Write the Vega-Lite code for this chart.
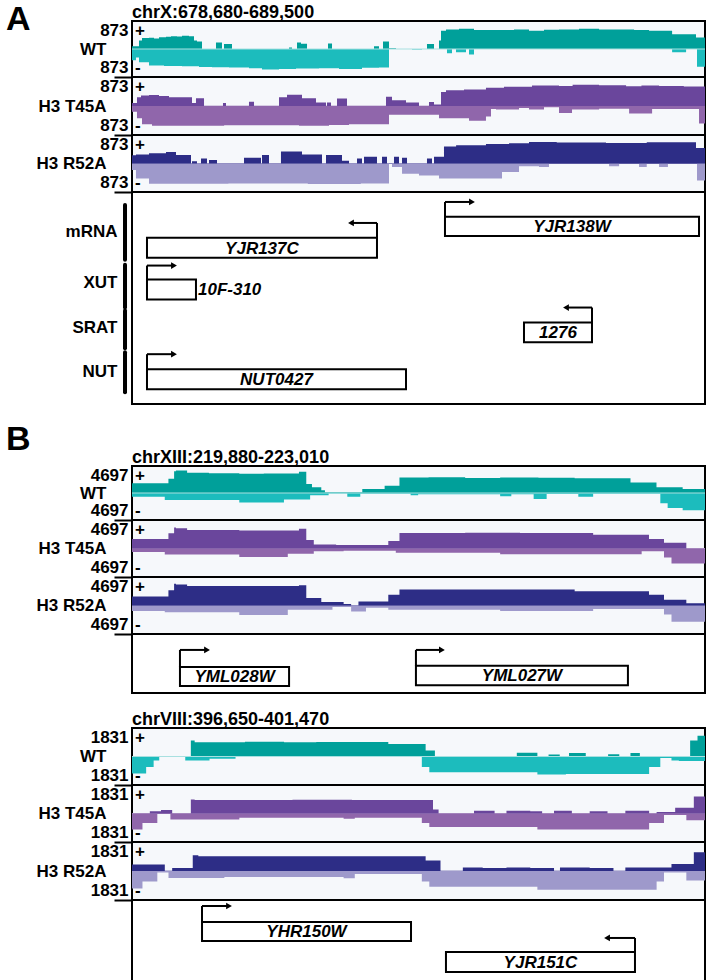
{
"$schema": "https://vega.github.io/schema/vega-lite/v6.json",
"background": "white",
"padding": {"left": 5, "top": 3, "right": 2, "bottom": 0},
"config": {
  "font": "Liberation Sans",
  "view": {"stroke": "black", "strokeWidth": 2, "fill": "#f6f8fb"},
  "axis": {"grid": false, "domain": false, "labelFont": "Liberation Sans", "labelFontWeight": "bold", "labelFontSize": 17, "labelColor": "black", "titleFont": "Liberation Sans", "titleFontWeight": "bold", "titleFontSize": 17, "titleColor": "black", "labelOverlap": false, "labelFlushOffset": -1},
  "title": {"font": "Liberation Sans", "fontWeight": "bold", "color": "black"},
  "text": {"font": "Liberation Sans", "color": "black"}
},
"datasets": {
"covA": [
{"s":"WT","t":"+","x":678680,"v":87},{"s":"WT","t":"+","x":678812,"v":262},{"s":"WT","t":"+","x":678869,"v":340},{"s":"WT","t":"+","x":679001,"v":350},{"s":"WT","t":"+","x":679096,"v":330},{"s":"WT","t":"+","x":679190,"v":370},{"s":"WT","t":"+","x":679322,"v":384},{"s":"WT","t":"+","x":679416,"v":400},{"s":"WT","t":"+","x":679530,"v":390},{"s":"WT","t":"+","x":679624,"v":410},{"s":"WT","t":"+","x":679756,"v":400},{"s":"WT","t":"+","x":679851,"v":262},{"s":"WT","t":"+","x":679907,"v":236},{"s":"WT","t":"+","x":680002,"v":0},{"s":"WT","t":"+","x":680266,"v":201},{"s":"WT","t":"+","x":680379,"v":0},{"s":"WT","t":"+","x":680417,"v":157},{"s":"WT","t":"+","x":680568,"v":0},{"s":"WT","t":"+","x":681645,"v":44},{"s":"WT","t":"+","x":681701,"v":0},{"s":"WT","t":"+","x":681796,"v":201},{"s":"WT","t":"+","x":681871,"v":160},{"s":"WT","t":"+","x":681985,"v":0},{"s":"WT","t":"+","x":682381,"v":175},{"s":"WT","t":"+","x":682457,"v":0},{"s":"WT","t":"+","x":683250,"v":87},{"s":"WT","t":"+","x":683344,"v":0},{"s":"WT","t":"+","x":683420,"v":236},{"s":"WT","t":"+","x":683533,"v":26},{"s":"WT","t":"+","x":683665,"v":0},{"s":"WT","t":"+","x":684250,"v":157},{"s":"WT","t":"+","x":684383,"v":0},{"s":"WT","t":"+","x":684477,"v":262},{"s":"WT","t":"+","x":684515,"v":567},{"s":"WT","t":"+","x":684609,"v":611},{"s":"WT","t":"+","x":684855,"v":629},{"s":"WT","t":"+","x":685138,"v":590},{"s":"WT","t":"+","x":685553,"v":594},{"s":"WT","t":"+","x":685893,"v":610},{"s":"WT","t":"+","x":686177,"v":567},{"s":"WT","t":"+","x":686460,"v":600},{"s":"WT","t":"+","x":686743,"v":611},{"s":"WT","t":"+","x":687121,"v":629},{"s":"WT","t":"+","x":687500,"v":605},{"s":"WT","t":"+","x":687878,"v":611},{"s":"WT","t":"+","x":688161,"v":590},{"s":"WT","t":"+","x":688444,"v":567},{"s":"WT","t":"+","x":688879,"v":463},{"s":"WT","t":"+","x":689330,"v":358},{"s":"WT","t":"+","x":689500,"v":358},
{"s":"WT","t":"-","x":678680,"v":-350},{"s":"WT","t":"-","x":678755,"v":-262},{"s":"WT","t":"-","x":678812,"v":-410},{"s":"WT","t":"-","x":679001,"v":-515},{"s":"WT","t":"-","x":679284,"v":-530},{"s":"WT","t":"-","x":679624,"v":-541},{"s":"WT","t":"-","x":679945,"v":-560},{"s":"WT","t":"-","x":680191,"v":-567},{"s":"WT","t":"-","x":680512,"v":-580},{"s":"WT","t":"-","x":680889,"v":-600},{"s":"WT","t":"-","x":681135,"v":-637},{"s":"WT","t":"-","x":681456,"v":-620},{"s":"WT","t":"-","x":681777,"v":-611},{"s":"WT","t":"-","x":682211,"v":-600},{"s":"WT","t":"-","x":682589,"v":-625},{"s":"WT","t":"-","x":683023,"v":-585},{"s":"WT","t":"-","x":683344,"v":-580},{"s":"WT","t":"-","x":683533,"v":0},{"s":"WT","t":"-","x":683967,"v":-15},{"s":"WT","t":"-","x":684156,"v":0},{"s":"WT","t":"-","x":684628,"v":-131},{"s":"WT","t":"-","x":684722,"v":0},{"s":"WT","t":"-","x":684798,"v":-105},{"s":"WT","t":"-","x":684987,"v":0},{"s":"WT","t":"-","x":685044,"v":-175},{"s":"WT","t":"-","x":685138,"v":0},{"s":"WT","t":"-","x":688879,"v":-105},{"s":"WT","t":"-","x":689143,"v":0},{"s":"WT","t":"-","x":689349,"v":-550},{"s":"WT","t":"-","x":689500,"v":-550},
{"s":"T45A","t":"+","x":678680,"v":87},{"s":"T45A","t":"+","x":678774,"v":262},{"s":"T45A","t":"+","x":678850,"v":314},{"s":"T45A","t":"+","x":679001,"v":330},{"s":"T45A","t":"+","x":679190,"v":300},{"s":"T45A","t":"+","x":679379,"v":262},{"s":"T45A","t":"+","x":679813,"v":87},{"s":"T45A","t":"+","x":679888,"v":236},{"s":"T45A","t":"+","x":680040,"v":0},{"s":"T45A","t":"+","x":680398,"v":87},{"s":"T45A","t":"+","x":680455,"v":0},{"s":"T45A","t":"+","x":680889,"v":131},{"s":"T45A","t":"+","x":680984,"v":0},{"s":"T45A","t":"+","x":681456,"v":262},{"s":"T45A","t":"+","x":681607,"v":340},{"s":"T45A","t":"+","x":681890,"v":236},{"s":"T45A","t":"+","x":682154,"v":105},{"s":"T45A","t":"+","x":682343,"v":0},{"s":"T45A","t":"+","x":682362,"v":105},{"s":"T45A","t":"+","x":682438,"v":0},{"s":"T45A","t":"+","x":682551,"v":227},{"s":"T45A","t":"+","x":682740,"v":0},{"s":"T45A","t":"+","x":683476,"v":279},{"s":"T45A","t":"+","x":683590,"v":175},{"s":"T45A","t":"+","x":683854,"v":105},{"s":"T45A","t":"+","x":684099,"v":0},{"s":"T45A","t":"+","x":684288,"v":122},{"s":"T45A","t":"+","x":684383,"v":44},{"s":"T45A","t":"+","x":684515,"v":419},{"s":"T45A","t":"+","x":684609,"v":471},{"s":"T45A","t":"+","x":684949,"v":500},{"s":"T45A","t":"+","x":685364,"v":550},{"s":"T45A","t":"+","x":685704,"v":580},{"s":"T45A","t":"+","x":686233,"v":620},{"s":"T45A","t":"+","x":686743,"v":600},{"s":"T45A","t":"+","x":687000,"v":640},{"s":"T45A","t":"+","x":687500,"v":625},{"s":"T45A","t":"+","x":688010,"v":594},{"s":"T45A","t":"+","x":688300,"v":615},{"s":"T45A","t":"+","x":688633,"v":600},{"s":"T45A","t":"+","x":689100,"v":590},{"s":"T45A","t":"+","x":689500,"v":590},
{"s":"T45A","t":"-","x":678680,"v":-175},{"s":"T45A","t":"-","x":678774,"v":-367},{"s":"T45A","t":"-","x":678869,"v":-550},{"s":"T45A","t":"-","x":679058,"v":-594},{"s":"T45A","t":"-","x":680420,"v":-580},{"s":"T45A","t":"-","x":681833,"v":-594},{"s":"T45A","t":"-","x":682400,"v":-575},{"s":"T45A","t":"-","x":682778,"v":-550},{"s":"T45A","t":"-","x":683476,"v":-550},{"s":"T45A","t":"-","x":683533,"v":-262},{"s":"T45A","t":"-","x":684099,"v":-262},{"s":"T45A","t":"-","x":684477,"v":-367},{"s":"T45A","t":"-","x":685044,"v":-445},{"s":"T45A","t":"-","x":685364,"v":-314},{"s":"T45A","t":"-","x":685459,"v":-87},{"s":"T45A","t":"-","x":685553,"v":-105},{"s":"T45A","t":"-","x":685988,"v":-60},{"s":"T45A","t":"-","x":686177,"v":-105},{"s":"T45A","t":"-","x":686460,"v":-40},{"s":"T45A","t":"-","x":686743,"v":-210},{"s":"T45A","t":"-","x":686989,"v":-105},{"s":"T45A","t":"-","x":687500,"v":-80},{"s":"T45A","t":"-","x":688067,"v":-227},{"s":"T45A","t":"-","x":688501,"v":-87},{"s":"T45A","t":"-","x":689387,"v":-524},{"s":"T45A","t":"-","x":689500,"v":-524},
{"s":"R52A","t":"+","x":678680,"v":250},{"s":"R52A","t":"+","x":678755,"v":279},{"s":"R52A","t":"+","x":679001,"v":314},{"s":"R52A","t":"+","x":679322,"v":349},{"s":"R52A","t":"+","x":679511,"v":262},{"s":"R52A","t":"+","x":679794,"v":0},{"s":"R52A","t":"+","x":679813,"v":70},{"s":"R52A","t":"+","x":679907,"v":0},{"s":"R52A","t":"+","x":679983,"v":157},{"s":"R52A","t":"+","x":680096,"v":0},{"s":"R52A","t":"+","x":680134,"v":105},{"s":"R52A","t":"+","x":680285,"v":0},{"s":"R52A","t":"+","x":680795,"v":175},{"s":"R52A","t":"+","x":681116,"v":0},{"s":"R52A","t":"+","x":681135,"v":262},{"s":"R52A","t":"+","x":681267,"v":0},{"s":"R52A","t":"+","x":681493,"v":367},{"s":"R52A","t":"+","x":681890,"v":279},{"s":"R52A","t":"+","x":682268,"v":0},{"s":"R52A","t":"+","x":682343,"v":262},{"s":"R52A","t":"+","x":682645,"v":87},{"s":"R52A","t":"+","x":682778,"v":0},{"s":"R52A","t":"+","x":682929,"v":157},{"s":"R52A","t":"+","x":683023,"v":0},{"s":"R52A","t":"+","x":683061,"v":210},{"s":"R52A","t":"+","x":683306,"v":0},{"s":"R52A","t":"+","x":683401,"v":210},{"s":"R52A","t":"+","x":683495,"v":0},{"s":"R52A","t":"+","x":683627,"v":210},{"s":"R52A","t":"+","x":683722,"v":0},{"s":"R52A","t":"+","x":683779,"v":175},{"s":"R52A","t":"+","x":683873,"v":0},{"s":"R52A","t":"+","x":684250,"v":157},{"s":"R52A","t":"+","x":684345,"v":0},{"s":"R52A","t":"+","x":684383,"v":210},{"s":"R52A","t":"+","x":684571,"v":524},{"s":"R52A","t":"+","x":684800,"v":560},{"s":"R52A","t":"+","x":685364,"v":594},{"s":"R52A","t":"+","x":685800,"v":620},{"s":"R52A","t":"+","x":686177,"v":655},{"s":"R52A","t":"+","x":686700,"v":640},{"s":"R52A","t":"+","x":687631,"v":629},{"s":"R52A","t":"+","x":688400,"v":650},{"s":"R52A","t":"+","x":689330,"v":471},{"s":"R52A","t":"+","x":689500,"v":471},
{"s":"R52A","t":"-","x":678680,"v":-200},{"s":"R52A","t":"-","x":678755,"v":-463},{"s":"R52A","t":"-","x":679001,"v":-620},{"s":"R52A","t":"-","x":680500,"v":-610},{"s":"R52A","t":"-","x":682000,"v":-625},{"s":"R52A","t":"-","x":683000,"v":-615},{"s":"R52A","t":"-","x":683533,"v":0},{"s":"R52A","t":"-","x":683590,"v":-105},{"s":"R52A","t":"-","x":683779,"v":-314},{"s":"R52A","t":"-","x":684099,"v":-367},{"s":"R52A","t":"-","x":684477,"v":-463},{"s":"R52A","t":"-","x":685667,"v":-262},{"s":"R52A","t":"-","x":685988,"v":-87},{"s":"R52A","t":"-","x":686365,"v":-105},{"s":"R52A","t":"-","x":686554,"v":0},{"s":"R52A","t":"-","x":687689,"v":-87},{"s":"R52A","t":"-","x":687878,"v":0},{"s":"R52A","t":"-","x":688255,"v":-105},{"s":"R52A","t":"-","x":688400,"v":0},{"s":"R52A","t":"-","x":688633,"v":-105},{"s":"R52A","t":"-","x":688800,"v":0},{"s":"R52A","t":"-","x":689349,"v":-524},{"s":"R52A","t":"-","x":689500,"v":-524}
],
"covB1": [
{"s":"WT","t":"+","x":219880,"v":1691},{"s":"WT","t":"+","x":220079,"v":2500},{"s":"WT","t":"+","x":220110,"v":3805},{"s":"WT","t":"+","x":220120,"v":3899},{"s":"WT","t":"+","x":220181,"v":3523},{"s":"WT","t":"+","x":220300,"v":3450},{"s":"WT","t":"+","x":220466,"v":3335},{"s":"WT","t":"+","x":220600,"v":3380},{"s":"WT","t":"+","x":220792,"v":3711},{"s":"WT","t":"+","x":220832,"v":1550},{"s":"WT","t":"+","x":220863,"v":986},{"s":"WT","t":"+","x":220914,"v":500},{"s":"WT","t":"+","x":220934,"v":141},{"s":"WT","t":"+","x":221138,"v":705},{"s":"WT","t":"+","x":221260,"v":1268},{"s":"WT","t":"+","x":221341,"v":2677},{"s":"WT","t":"+","x":221500,"v":2750},{"s":"WT","t":"+","x":221700,"v":2630},{"s":"WT","t":"+","x":221891,"v":2700},{"s":"WT","t":"+","x":222100,"v":2650},{"s":"WT","t":"+","x":222298,"v":2583},{"s":"WT","t":"+","x":222603,"v":1832},{"s":"WT","t":"+","x":222745,"v":986},{"s":"WT","t":"+","x":222888,"v":705},{"s":"WT","t":"+","x":223010,"v":705},
{"s":"WT","t":"-","x":219880,"v":-658},{"s":"WT","t":"-","x":220059,"v":-1221},{"s":"WT","t":"-","x":220466,"v":-1644},{"s":"WT","t":"-","x":220710,"v":-1127},{"s":"WT","t":"-","x":220853,"v":-376},{"s":"WT","t":"-","x":220954,"v":-94},{"s":"WT","t":"-","x":221056,"v":-658},{"s":"WT","t":"-","x":221127,"v":-141},{"s":"WT","t":"-","x":221402,"v":-376},{"s":"WT","t":"-","x":221443,"v":-235},{"s":"WT","t":"-","x":221891,"v":-564},{"s":"WT","t":"-","x":221952,"v":-235},{"s":"WT","t":"-","x":222074,"v":-1033},{"s":"WT","t":"-","x":222145,"v":-188},{"s":"WT","t":"-","x":222318,"v":-658},{"s":"WT","t":"-","x":222399,"v":-141},{"s":"WT","t":"-","x":222766,"v":-1785},{"s":"WT","t":"-","x":222806,"v":-2630},{"s":"WT","t":"-","x":222888,"v":-3006},{"s":"WT","t":"-","x":223010,"v":-3006},
{"s":"T45A","t":"+","x":219880,"v":1550},{"s":"T45A","t":"+","x":220079,"v":2500},{"s":"T45A","t":"+","x":220110,"v":3476},{"s":"T45A","t":"+","x":220120,"v":3335},{"s":"T45A","t":"+","x":220181,"v":3053},{"s":"T45A","t":"+","x":220466,"v":2959},{"s":"T45A","t":"+","x":220792,"v":3241},{"s":"T45A","t":"+","x":220832,"v":1409},{"s":"T45A","t":"+","x":220873,"v":658},{"s":"T45A","t":"+","x":220995,"v":564},{"s":"T45A","t":"+","x":221280,"v":1221},{"s":"T45A","t":"+","x":221341,"v":2536},{"s":"T45A","t":"+","x":221700,"v":2600},{"s":"T45A","t":"+","x":222000,"v":2536},{"s":"T45A","t":"+","x":222399,"v":2255},{"s":"T45A","t":"+","x":222704,"v":1550},{"s":"T45A","t":"+","x":222786,"v":939},{"s":"T45A","t":"+","x":222908,"v":0},{"s":"T45A","t":"+","x":223010,"v":0},
{"s":"T45A","t":"-","x":219880,"v":-564},{"s":"T45A","t":"-","x":220059,"v":-986},{"s":"T45A","t":"-","x":220466,"v":-1409},{"s":"T45A","t":"-","x":220731,"v":-845},{"s":"T45A","t":"-","x":220873,"v":-470},{"s":"T45A","t":"-","x":221036,"v":-376},{"s":"T45A","t":"-","x":221321,"v":-705},{"s":"T45A","t":"-","x":221891,"v":-939},{"s":"T45A","t":"-","x":222664,"v":-470},{"s":"T45A","t":"-","x":222786,"v":-1500},{"s":"T45A","t":"-","x":222827,"v":-2489},{"s":"T45A","t":"-","x":223010,"v":-2489},
{"s":"R52A","t":"+","x":219880,"v":1503},{"s":"R52A","t":"+","x":220079,"v":2500},{"s":"R52A","t":"+","x":220110,"v":3570},{"s":"R52A","t":"+","x":220120,"v":3476},{"s":"R52A","t":"+","x":220181,"v":3194},{"s":"R52A","t":"+","x":220792,"v":3335},{"s":"R52A","t":"+","x":220832,"v":1221},{"s":"R52A","t":"+","x":220914,"v":564},{"s":"R52A","t":"+","x":221036,"v":235},{"s":"R52A","t":"+","x":221077,"v":0},{"s":"R52A","t":"+","x":221117,"v":658},{"s":"R52A","t":"+","x":221280,"v":1785},{"s":"R52A","t":"+","x":221341,"v":2630},{"s":"R52A","t":"+","x":222298,"v":2349},{"s":"R52A","t":"+","x":222704,"v":1785},{"s":"R52A","t":"+","x":222786,"v":939},{"s":"R52A","t":"+","x":222908,"v":376},{"s":"R52A","t":"+","x":223010,"v":376},
{"s":"R52A","t":"-","x":219880,"v":-892},{"s":"R52A","t":"-","x":220059,"v":-1127},{"s":"R52A","t":"-","x":220466,"v":-1550},{"s":"R52A","t":"-","x":220731,"v":-705},{"s":"R52A","t":"-","x":220975,"v":-235},{"s":"R52A","t":"-","x":221077,"v":-986},{"s":"R52A","t":"-","x":221158,"v":-376},{"s":"R52A","t":"-","x":221280,"v":-705},{"s":"R52A","t":"-","x":221891,"v":-892},{"s":"R52A","t":"-","x":222399,"v":-564},{"s":"R52A","t":"-","x":222786,"v":-1500},{"s":"R52A","t":"-","x":222827,"v":-2677},{"s":"R52A","t":"-","x":223010,"v":-2677}
],
"covB2": [
{"s":"WT","t":"+","x":396650,"v":0},{"s":"WT","t":"+","x":397145,"v":1025},{"s":"WT","t":"+","x":397177,"v":916},{"s":"WT","t":"+","x":397600,"v":950},{"s":"WT","t":"+","x":397929,"v":916},{"s":"WT","t":"+","x":398200,"v":930},{"s":"WT","t":"+","x":398806,"v":806},{"s":"WT","t":"+","x":399120,"v":385},{"s":"WT","t":"+","x":399198,"v":0},{"s":"WT","t":"+","x":399887,"v":238},{"s":"WT","t":"+","x":400060,"v":0},{"s":"WT","t":"+","x":400154,"v":128},{"s":"WT","t":"+","x":400248,"v":0},{"s":"WT","t":"+","x":400326,"v":220},{"s":"WT","t":"+","x":400467,"v":0},{"s":"WT","t":"+","x":400655,"v":146},{"s":"WT","t":"+","x":400749,"v":0},{"s":"WT","t":"+","x":400843,"v":220},{"s":"WT","t":"+","x":400922,"v":0},{"s":"WT","t":"+","x":401345,"v":1025},{"s":"WT","t":"+","x":401407,"v":1337},{"s":"WT","t":"+","x":401470,"v":1337},
{"s":"WT","t":"-","x":396650,"v":-1099},{"s":"WT","t":"-","x":396769,"v":-677},{"s":"WT","t":"-","x":396832,"v":-256},{"s":"WT","t":"-","x":396879,"v":0},{"s":"WT","t":"-","x":397098,"v":-256},{"s":"WT","t":"-","x":397302,"v":-146},{"s":"WT","t":"-","x":397521,"v":0},{"s":"WT","t":"-","x":399088,"v":-677},{"s":"WT","t":"-","x":399151,"v":-1007},{"s":"WT","t":"-","x":400060,"v":-1154},{"s":"WT","t":"-","x":400300,"v":-1120},{"s":"WT","t":"-","x":401000,"v":-677},{"s":"WT","t":"-","x":401094,"v":-92},{"s":"WT","t":"-","x":401188,"v":-256},{"s":"WT","t":"-","x":401250,"v":-293},{"s":"WT","t":"-","x":401470,"v":-293},
{"s":"T45A","t":"+","x":396650,"v":0},{"s":"T45A","t":"+","x":396800,"v":146},{"s":"T45A","t":"+","x":396894,"v":220},{"s":"T45A","t":"+","x":396988,"v":0},{"s":"T45A","t":"+","x":397145,"v":897},{"s":"T45A","t":"+","x":397177,"v":861},{"s":"T45A","t":"+","x":398000,"v":880},{"s":"T45A","t":"+","x":398500,"v":861},{"s":"T45A","t":"+","x":399182,"v":256},{"s":"T45A","t":"+","x":399229,"v":0},{"s":"T45A","t":"+","x":399527,"v":183},{"s":"T45A","t":"+","x":399700,"v":0},{"s":"T45A","t":"+","x":399800,"v":183},{"s":"T45A","t":"+","x":400000,"v":146},{"s":"T45A","t":"+","x":400100,"v":0},{"s":"T45A","t":"+","x":400200,"v":183},{"s":"T45A","t":"+","x":400350,"v":0},{"s":"T45A","t":"+","x":400500,"v":146},{"s":"T45A","t":"+","x":400650,"v":0},{"s":"T45A","t":"+","x":400800,"v":183},{"s":"T45A","t":"+","x":401000,"v":0},{"s":"T45A","t":"+","x":401063,"v":92},{"s":"T45A","t":"+","x":401219,"v":366},{"s":"T45A","t":"+","x":401376,"v":1099},{"s":"T45A","t":"+","x":401470,"v":1099},
{"s":"T45A","t":"-","x":396650,"v":-1025},{"s":"T45A","t":"-","x":396738,"v":-604},{"s":"T45A","t":"-","x":396863,"v":-37},{"s":"T45A","t":"-","x":396973,"v":-385},{"s":"T45A","t":"-","x":397553,"v":-275},{"s":"T45A","t":"-","x":398430,"v":-330},{"s":"T45A","t":"-","x":398524,"v":-275},{"s":"T45A","t":"-","x":399088,"v":-604},{"s":"T45A","t":"-","x":399151,"v":-861},{"s":"T45A","t":"-","x":400060,"v":-1025},{"s":"T45A","t":"-","x":401000,"v":-604},{"s":"T45A","t":"-","x":401125,"v":-92},{"s":"T45A","t":"-","x":401313,"v":-439},{"s":"T45A","t":"-","x":401470,"v":-439},
{"s":"R52A","t":"+","x":396650,"v":403},{"s":"R52A","t":"+","x":396926,"v":0},{"s":"R52A","t":"+","x":396988,"v":183},{"s":"R52A","t":"+","x":397161,"v":989},{"s":"R52A","t":"+","x":397208,"v":934},{"s":"R52A","t":"+","x":399120,"v":659},{"s":"R52A","t":"+","x":399245,"v":0},{"s":"R52A","t":"+","x":399433,"v":220},{"s":"R52A","t":"+","x":399600,"v":183},{"s":"R52A","t":"+","x":399800,"v":220},{"s":"R52A","t":"+","x":400000,"v":183},{"s":"R52A","t":"+","x":400200,"v":0},{"s":"R52A","t":"+","x":400250,"v":220},{"s":"R52A","t":"+","x":400500,"v":183},{"s":"R52A","t":"+","x":400700,"v":0},{"s":"R52A","t":"+","x":400800,"v":220},{"s":"R52A","t":"+","x":401188,"v":439},{"s":"R52A","t":"+","x":401376,"v":1190},{"s":"R52A","t":"+","x":401470,"v":1190},
{"s":"R52A","t":"-","x":396650,"v":-1099},{"s":"R52A","t":"-","x":396738,"v":-659},{"s":"R52A","t":"-","x":396863,"v":-92},{"s":"R52A","t":"-","x":396957,"v":-439},{"s":"R52A","t":"-","x":397427,"v":-385},{"s":"R52A","t":"-","x":398430,"v":-460},{"s":"R52A","t":"-","x":398524,"v":-183},{"s":"R52A","t":"-","x":399088,"v":-659},{"s":"R52A","t":"-","x":399151,"v":-989},{"s":"R52A","t":"-","x":400060,"v":-1190},{"s":"R52A","t":"-","x":401063,"v":-659},{"s":"R52A","t":"-","x":401125,"v":-92},{"s":"R52A","t":"-","x":401313,"v":-604},{"s":"R52A","t":"-","x":401470,"v":-604}
],
"genesA": [
{"name":"YJR138W","strand":"+","start":684590,"end":689387,"tss":684590,"tip":685100,"top":11.7,"bot":20.7,"ay":4.7,"lx":686988},
{"name":"YJR137C","strand":"-","start":678963,"end":683306,"tss":683306,"tip":682815,"top":21.6,"bot":31.0,"ay":14.6,"lx":681134},
{"name":"10F-310","strand":"+","start":678963,"end":679888,"tss":678963,"tip":679473,"top":41.3,"bot":50.7,"ay":34.7,"lx":679926},
{"name":"1276","strand":"-","start":686082,"end":687366,"tss":687366,"tip":686875,"top":61.5,"bot":70.9,"ay":54.5,"lx":686724},
{"name":"NUT0427","strand":"+","start":678963,"end":683854,"tss":678963,"tip":679473,"top":83.6,"bot":93.0,"ay":76.5,"lx":681408}
],
"catsA": [
{"cat":"mRNA","top":6.1,"bot":31.9},{"cat":"XUT","top":34.3,"bot":54.5},{"cat":"SRAT","top":55.9,"bot":73.7},{"cat":"NUT","top":75.6,"bot":94.4}
],
"genesB1": [
{"name":"YML028W","strand":"+","start":220142,"end":220738,"tss":220142,"tip":220290,"top":56,"bot":88,"ay":27,"lx":220440},
{"name":"YML027W","strand":"+","start":221431,"end":222589,"tss":221431,"tip":221573,"top":54,"bot":87,"ay":27,"lx":222010}
],
"genesB2": [
{"name":"YHR150W","strand":"+","start":397239,"end":398997,"tss":397239,"tip":397466,"top":26.8,"bot":50,"ay":7.3,"lx":398118},
{"name":"YJR151C","strand":"-","start":399291,"end":400881,"tss":400881,"tip":400646,"top":63.4,"bot":87.8,"ay":46.3,"lx":400086}
]
},
"spacing": 18,
"vconcat": [
{
"title": {"text": "A", "orient": "left", "anchor": "end", "angle": 0, "align": "right", "baseline": "top", "fontSize": 34, "offset": -20, "dy": 0},
"spacing": 0,
"bounds": "flush",
"vconcat": [
{"width": 573, "height": 56,
 "title": {"text": "chrX:678,680-689,500", "anchor": "start", "frame": "group", "fontSize": 18, "offset": -2},
 "data": {"name": "covA"},
 "layer": [
  {"transform": [{"filter": "datum.s == 'WT' && datum.t == '-'"}], "mark": {"type": "area", "interpolate": "step-after", "color": "#1cbcbd"},
   "encoding": {"x": {"field": "x", "type": "quantitative", "scale": {"domain": [678680, 689500], "nice": false, "zero": false}, "axis": null},
    "y": {"field": "v", "type": "quantitative", "scale": {"domain": [-873, 873], "nice": false, "zero": false},
     "axis": {"values": [-873, 0, 873], "labelExpr": "datum.value == 0 ? '0' : '873'", "title": "WT", "titleAngle": 0, "titleAlign": "right", "titleBaseline": "middle", "titleX": -26, "titleY": 28, "tickSize": 18, "tickWidth": 2, "tickColor": {"condition": {"test": "datum.value < 0", "value": "black"}, "value": "transparent"}, "labelPadding": -14, "labelFlush": true}},
    "y2": {"datum": 0}}},
  {"transform": [{"filter": "datum.s == 'WT' && datum.t == '+'"}], "mark": {"type": "area", "interpolate": "step-after", "color": "#00a09a"},
   "encoding": {"x": {"field": "x", "type": "quantitative", "axis": null}, "y": {"field": "v", "type": "quantitative"}, "y2": {"datum": 0}}},
  {"data": {"values": [{}]}, "mark": {"type": "rule", "color": "#a8e0e0", "strokeWidth": 1}, "encoding": {"y": {"datum": 0}}},
  {"data": {"values": [{}]}, "mark": {"type": "text", "text": "+", "align": "left", "baseline": "top", "dx": 3, "dy": 2, "fontSize": 17, "fontWeight": "bold"}, "encoding": {"x": {"datum": 678680, "axis": null}, "y": {"datum": 873}}},
  {"data": {"values": [{}]}, "mark": {"type": "text", "text": "-", "align": "left", "baseline": "bottom", "dx": 3, "fontSize": 17, "fontWeight": "bold"}, "encoding": {"x": {"datum": 678680, "axis": null}, "y": {"datum": -873}}}
 ]},
{"width": 573, "height": 58,
 "data": {"name": "covA"},
 "layer": [
  {"data": {"values": [{}]}, "mark": {"type": "rule", "color": "#b9a2cc", "strokeWidth": 1}, "encoding": {"y": {"datum": 0, "type": "quantitative", "scale": {"domain": [-873, 873], "nice": false, "zero": false},
     "axis": {"values": [-873, 0, 873], "labelExpr": "datum.value == 0 ? '0' : '873'", "title": "H3 T45A", "titleAngle": 0, "titleAlign": "right", "titleBaseline": "middle", "titleX": -26, "titleY": 29, "tickSize": 18, "tickWidth": 2, "tickColor": {"condition": {"test": "datum.value < 0", "value": "black"}, "value": "transparent"}, "labelPadding": -14, "labelFlush": true}}}},
  {"transform": [{"filter": "datum.s == 'T45A' && datum.t == '-'"}], "mark": {"type": "area", "interpolate": "step-after", "color": "#9066ab"},
   "encoding": {"x": {"field": "x", "type": "quantitative", "scale": {"domain": [678680, 689500], "nice": false, "zero": false}, "axis": null}, "y": {"field": "v", "type": "quantitative"}, "y2": {"datum": 0}}},
  {"transform": [{"filter": "datum.s == 'T45A' && datum.t == '+'"}], "mark": {"type": "area", "interpolate": "step-after", "color": "#6a469c"},
   "encoding": {"x": {"field": "x", "type": "quantitative", "axis": null}, "y": {"field": "v", "type": "quantitative"}, "y2": {"datum": 0}}},
  {"data": {"values": [{}]}, "mark": {"type": "text", "text": "+", "align": "left", "baseline": "top", "dx": 3, "dy": 2, "fontSize": 17, "fontWeight": "bold"}, "encoding": {"x": {"datum": 678680, "axis": null}, "y": {"datum": 873}}},
  {"data": {"values": [{}]}, "mark": {"type": "text", "text": "-", "align": "left", "baseline": "bottom", "dx": 3, "fontSize": 17, "fontWeight": "bold"}, "encoding": {"x": {"datum": 678680, "axis": null}, "y": {"datum": -873}}}
 ]},
{"width": 573, "height": 57,
 "data": {"name": "covA"},
 "layer": [
  {"data": {"values": [{}]}, "mark": {"type": "rule", "color": "#8a86bd", "strokeWidth": 1}, "encoding": {"y": {"datum": 0, "type": "quantitative", "scale": {"domain": [-873, 873], "nice": false, "zero": false},
     "axis": {"values": [-873, 0, 873], "labelExpr": "datum.value == 0 ? '0' : '873'", "title": "H3 R52A", "titleAngle": 0, "titleAlign": "right", "titleBaseline": "middle", "titleX": -26, "titleY": 28.5, "tickSize": 18, "tickWidth": 2, "tickColor": {"condition": {"test": "datum.value < 0", "value": "black"}, "value": "transparent"}, "labelPadding": -14, "labelFlush": true}}}},
  {"transform": [{"filter": "datum.s == 'R52A' && datum.t == '-'"}], "mark": {"type": "area", "interpolate": "step-after", "color": "#9e99cb"},
   "encoding": {"x": {"field": "x", "type": "quantitative", "scale": {"domain": [678680, 689500], "nice": false, "zero": false}, "axis": null}, "y": {"field": "v", "type": "quantitative"}, "y2": {"datum": 0}}},
  {"transform": [{"filter": "datum.s == 'R52A' && datum.t == '+'"}], "mark": {"type": "area", "interpolate": "step-after", "color": "#2d2d86"},
   "encoding": {"x": {"field": "x", "type": "quantitative", "axis": null}, "y": {"field": "v", "type": "quantitative"}, "y2": {"datum": 0}}},
  {"data": {"values": [{}]}, "mark": {"type": "text", "text": "+", "align": "left", "baseline": "top", "dx": 3, "dy": 2, "fontSize": 17, "fontWeight": "bold"}, "encoding": {"x": {"datum": 678680, "axis": null}, "y": {"datum": 873}}},
  {"data": {"values": [{}]}, "mark": {"type": "text", "text": "-", "align": "left", "baseline": "bottom", "dx": 3, "fontSize": 17, "fontWeight": "bold"}, "encoding": {"x": {"datum": 678680, "axis": null}, "y": {"datum": -873}}}
 ]},
{"width": 573, "height": 212,
 "view": {"fill": "white"},
 "data": {"name": "genesA"},
 "layer": [
  {"data": {"name": "catsA"}, "mark": {"type": "rule", "strokeWidth": 4, "color": "black", "strokeCap": "round"},
   "encoding": {"x": {"datum": 678548, "type": "quantitative", "scale": {"domain": [678680, 689500], "nice": false, "zero": false}, "axis": null},
    "y": {"field": "top", "type": "quantitative", "scale": {"domain": [0, 100], "reverse": true, "nice": false, "zero": false},
     "axis": {"values": [18.8, 42.7, 63.8, 84.5], "labelExpr": "datum.value < 30 ? 'mRNA' : datum.value < 50 ? 'XUT' : datum.value < 70 ? 'SRAT' : 'NUT'", "title": null, "ticks": false, "labelPadding": 15}},
    "y2": {"field": "bot"}}},
  {"mark": {"type": "rule", "strokeWidth": 2, "color": "black"}, "encoding": {"x": {"field": "tss", "type": "quantitative", "axis": null}, "y": {"field": "top", "type": "quantitative"}, "y2": {"field": "ay"}}},
  {"mark": {"type": "rule", "strokeWidth": 2, "color": "black"}, "encoding": {"x": {"field": "tss", "type": "quantitative", "axis": null}, "x2": {"field": "tip"}, "y": {"field": "ay", "type": "quantitative"}}},
  {"mark": {"type": "point", "filled": true, "color": "black", "opacity": 1, "size": 45}, "encoding": {"x": {"field": "tip", "type": "quantitative", "axis": null}, "y": {"field": "ay", "type": "quantitative"}, "shape": {"field": "strand", "type": "nominal", "scale": {"domain": ["+", "-"], "range": ["triangle-right", "triangle-left"]}, "legend": null}}},
  {"mark": {"type": "rect", "fill": "white", "stroke": "black", "strokeWidth": 2}, "encoding": {"x": {"field": "start", "type": "quantitative", "axis": null}, "x2": {"field": "end"}, "y": {"field": "top", "type": "quantitative"}, "y2": {"field": "bot"}}},
  {"transform": [{"filter": "datum.name != '10F-310'"}], "mark": {"type": "text", "fontStyle": "italic", "fontWeight": "bold", "fontSize": 17, "baseline": "alphabetic", "dy": -4}, "encoding": {"x": {"field": "lx", "type": "quantitative", "axis": null}, "y": {"field": "bot", "type": "quantitative"}, "text": {"field": "name"}}},
  {"transform": [{"filter": "datum.name == '10F-310'"}], "mark": {"type": "text", "fontStyle": "italic", "fontWeight": "bold", "fontSize": 17, "baseline": "alphabetic", "align": "left", "dy": -4}, "encoding": {"x": {"field": "lx", "type": "quantitative", "axis": null}, "y": {"field": "bot", "type": "quantitative"}, "text": {"field": "name"}}}
 ]}
]
},
{
"title": {"text": "B", "orient": "left", "anchor": "end", "angle": 0, "align": "right", "baseline": "top", "fontSize": 34, "offset": -20, "dy": -25},
"spacing": 16,
"vconcat": [
{"spacing": 0,
 "bounds": "flush",
 "vconcat": [
{"width": 573, "height": 54,
 "title": {"text": "chrXIII:219,880-223,010", "anchor": "start", "frame": "group", "fontSize": 18, "offset": -2},
 "data": {"name": "covB1"},
 "layer": [
  {"transform": [{"filter": "datum.s == 'WT' && datum.t == '-'"}], "mark": {"type": "area", "interpolate": "step-after", "color": "#1cbcbd"},
   "encoding": {"x": {"field": "x", "type": "quantitative", "scale": {"domain": [219880, 223010], "nice": false, "zero": false}, "axis": null},
    "y": {"field": "v", "type": "quantitative", "scale": {"domain": [-4697, 4697], "nice": false, "zero": false},
     "axis": {"values": [-4697, 0, 4697], "labelExpr": "datum.value == 0 ? '0' : '4697'", "title": "WT", "titleAngle": 0, "titleAlign": "right", "titleBaseline": "middle", "titleX": -26, "titleY": 27, "tickSize": 18, "tickWidth": 2, "tickColor": {"condition": {"test": "datum.value < 0", "value": "black"}, "value": "transparent"}, "labelPadding": -14, "labelFlush": true}},
    "y2": {"datum": 0}}},
  {"transform": [{"filter": "datum.s == 'WT' && datum.t == '+'"}], "mark": {"type": "area", "interpolate": "step-after", "color": "#00a09a"},
   "encoding": {"x": {"field": "x", "type": "quantitative", "axis": null}, "y": {"field": "v", "type": "quantitative"}, "y2": {"datum": 0}}},
  {"data": {"values": [{}]}, "mark": {"type": "rule", "color": "#a8e0e0", "strokeWidth": 1}, "encoding": {"y": {"datum": 0}}},
  {"data": {"values": [{}]}, "mark": {"type": "text", "text": "+", "align": "left", "baseline": "top", "dx": 3, "dy": 2, "fontSize": 17, "fontWeight": "bold"}, "encoding": {"x": {"datum": 219880, "axis": null}, "y": {"datum": 4697}}},
  {"data": {"values": [{}]}, "mark": {"type": "text", "text": "-", "align": "left", "baseline": "bottom", "dx": 3, "fontSize": 17, "fontWeight": "bold"}, "encoding": {"x": {"datum": 219880, "axis": null}, "y": {"datum": -4697}}}
 ]},
{"width": 573, "height": 57,
 "data": {"name": "covB1"},
 "layer": [
  {"data": {"values": [{}]}, "mark": {"type": "rule", "color": "#b9a2cc", "strokeWidth": 1}, "encoding": {"y": {"datum": 0, "type": "quantitative", "scale": {"domain": [-4697, 4697], "nice": false, "zero": false},
     "axis": {"values": [-4697, 0, 4697], "labelExpr": "datum.value == 0 ? '0' : '4697'", "title": "H3 T45A", "titleAngle": 0, "titleAlign": "right", "titleBaseline": "middle", "titleX": -26, "titleY": 28.5, "tickSize": 18, "tickWidth": 2, "tickColor": {"condition": {"test": "datum.value < 0", "value": "black"}, "value": "transparent"}, "labelPadding": -14, "labelFlush": true}}}},
  {"transform": [{"filter": "datum.s == 'T45A' && datum.t == '-'"}], "mark": {"type": "area", "interpolate": "step-after", "color": "#9066ab"},
   "encoding": {"x": {"field": "x", "type": "quantitative", "scale": {"domain": [219880, 223010], "nice": false, "zero": false}, "axis": null}, "y": {"field": "v", "type": "quantitative"}, "y2": {"datum": 0}}},
  {"transform": [{"filter": "datum.s == 'T45A' && datum.t == '+'"}], "mark": {"type": "area", "interpolate": "step-after", "color": "#6a469c"},
   "encoding": {"x": {"field": "x", "type": "quantitative", "axis": null}, "y": {"field": "v", "type": "quantitative"}, "y2": {"datum": 0}}},
  {"data": {"values": [{}]}, "mark": {"type": "text", "text": "+", "align": "left", "baseline": "top", "dx": 3, "dy": 2, "fontSize": 17, "fontWeight": "bold"}, "encoding": {"x": {"datum": 219880, "axis": null}, "y": {"datum": 4697}}},
  {"data": {"values": [{}]}, "mark": {"type": "text", "text": "-", "align": "left", "baseline": "bottom", "dx": 3, "fontSize": 17, "fontWeight": "bold"}, "encoding": {"x": {"datum": 219880, "axis": null}, "y": {"datum": -4697}}}
 ]},
{"width": 573, "height": 57,
 "data": {"name": "covB1"},
 "layer": [
  {"data": {"values": [{}]}, "mark": {"type": "rule", "color": "#8a86bd", "strokeWidth": 1}, "encoding": {"y": {"datum": 0, "type": "quantitative", "scale": {"domain": [-4697, 4697], "nice": false, "zero": false},
     "axis": {"values": [-4697, 0, 4697], "labelExpr": "datum.value == 0 ? '0' : '4697'", "title": "H3 R52A", "titleAngle": 0, "titleAlign": "right", "titleBaseline": "middle", "titleX": -26, "titleY": 28.5, "tickSize": 18, "tickWidth": 2, "tickColor": {"condition": {"test": "datum.value < 0", "value": "black"}, "value": "transparent"}, "labelPadding": -14, "labelFlush": true}}}},
  {"transform": [{"filter": "datum.s == 'R52A' && datum.t == '-'"}], "mark": {"type": "area", "interpolate": "step-after", "color": "#9e99cb"},
   "encoding": {"x": {"field": "x", "type": "quantitative", "scale": {"domain": [219880, 223010], "nice": false, "zero": false}, "axis": null}, "y": {"field": "v", "type": "quantitative"}, "y2": {"datum": 0}}},
  {"transform": [{"filter": "datum.s == 'R52A' && datum.t == '+'"}], "mark": {"type": "area", "interpolate": "step-after", "color": "#2d2d86"},
   "encoding": {"x": {"field": "x", "type": "quantitative", "axis": null}, "y": {"field": "v", "type": "quantitative"}, "y2": {"datum": 0}}},
  {"data": {"values": [{}]}, "mark": {"type": "text", "text": "+", "align": "left", "baseline": "top", "dx": 3, "dy": 2, "fontSize": 17, "fontWeight": "bold"}, "encoding": {"x": {"datum": 219880, "axis": null}, "y": {"datum": 4697}}},
  {"data": {"values": [{}]}, "mark": {"type": "text", "text": "-", "align": "left", "baseline": "bottom", "dx": 3, "fontSize": 17, "fontWeight": "bold"}, "encoding": {"x": {"datum": 219880, "axis": null}, "y": {"datum": -4697}}}
 ]},
{"width": 573, "height": 59,
 "view": {"fill": "white"},
 "data": {"name": "genesB1"},
 "layer": [
  {"mark": {"type": "rule", "strokeWidth": 2, "color": "black"}, "encoding": {"x": {"field": "tss", "type": "quantitative", "scale": {"domain": [219880, 223010], "nice": false, "zero": false}, "axis": null}, "y": {"field": "top", "type": "quantitative", "scale": {"domain": [0, 100], "reverse": true, "nice": false, "zero": false}, "axis": null}, "y2": {"field": "ay"}}},
  {"mark": {"type": "rule", "strokeWidth": 2, "color": "black"}, "encoding": {"x": {"field": "tss", "type": "quantitative", "axis": null}, "x2": {"field": "tip"}, "y": {"field": "ay", "type": "quantitative", "axis": null}}},
  {"mark": {"type": "point", "filled": true, "color": "black", "opacity": 1, "size": 45}, "encoding": {"x": {"field": "tip", "type": "quantitative", "axis": null}, "y": {"field": "ay", "type": "quantitative", "axis": null}, "shape": {"field": "strand", "type": "nominal", "scale": {"domain": ["+", "-"], "range": ["triangle-right", "triangle-left"]}, "legend": null}}},
  {"mark": {"type": "rect", "fill": "white", "stroke": "black", "strokeWidth": 2}, "encoding": {"x": {"field": "start", "type": "quantitative", "axis": null}, "x2": {"field": "end"}, "y": {"field": "top", "type": "quantitative", "axis": null}, "y2": {"field": "bot"}}},
  {"mark": {"type": "text", "fontStyle": "italic", "fontWeight": "bold", "fontSize": 17, "baseline": "alphabetic", "dy": -4}, "encoding": {"x": {"field": "lx", "type": "quantitative", "axis": null}, "y": {"field": "bot", "type": "quantitative", "axis": null}, "text": {"field": "name"}}}
 ]}
 ]},
{"spacing": 0,
 "bounds": "flush",
 "vconcat": [
{"width": 573, "height": 57,
 "title": {"text": "chrVIII:396,650-401,470", "anchor": "start", "frame": "group", "fontSize": 18, "offset": -2},
 "data": {"name": "covB2"},
 "layer": [
  {"transform": [{"filter": "datum.s == 'WT' && datum.t == '-'"}], "mark": {"type": "area", "interpolate": "step-after", "color": "#1cbcbd"},
   "encoding": {"x": {"field": "x", "type": "quantitative", "scale": {"domain": [396650, 401470], "nice": false, "zero": false}, "axis": null},
    "y": {"field": "v", "type": "quantitative", "scale": {"domain": [-1831, 1831], "nice": false, "zero": false},
     "axis": {"values": [-1831, 0, 1831], "labelExpr": "datum.value == 0 ? '0' : '1831'", "title": "WT", "titleAngle": 0, "titleAlign": "right", "titleBaseline": "middle", "titleX": -26, "titleY": 28.5, "tickSize": 18, "tickWidth": 2, "tickColor": {"condition": {"test": "datum.value < 0", "value": "black"}, "value": "transparent"}, "labelPadding": -14, "labelFlush": true}},
    "y2": {"datum": 0}}},
  {"transform": [{"filter": "datum.s == 'WT' && datum.t == '+'"}], "mark": {"type": "area", "interpolate": "step-after", "color": "#00a09a"},
   "encoding": {"x": {"field": "x", "type": "quantitative", "axis": null}, "y": {"field": "v", "type": "quantitative"}, "y2": {"datum": 0}}},
  {"data": {"values": [{}]}, "mark": {"type": "rule", "color": "#a8e0e0", "strokeWidth": 1}, "encoding": {"y": {"datum": 0}}},
  {"data": {"values": [{}]}, "mark": {"type": "text", "text": "+", "align": "left", "baseline": "top", "dx": 3, "dy": 2, "fontSize": 17, "fontWeight": "bold"}, "encoding": {"x": {"datum": 396650, "axis": null}, "y": {"datum": 1831}}},
  {"data": {"values": [{}]}, "mark": {"type": "text", "text": "-", "align": "left", "baseline": "bottom", "dx": 3, "fontSize": 17, "fontWeight": "bold"}, "encoding": {"x": {"datum": 396650, "axis": null}, "y": {"datum": -1831}}}
 ]},
{"width": 573, "height": 57,
 "data": {"name": "covB2"},
 "layer": [
  {"data": {"values": [{}]}, "mark": {"type": "rule", "color": "#b9a2cc", "strokeWidth": 1}, "encoding": {"y": {"datum": 0, "type": "quantitative", "scale": {"domain": [-1831, 1831], "nice": false, "zero": false},
     "axis": {"values": [-1831, 0, 1831], "labelExpr": "datum.value == 0 ? '0' : '1831'", "title": "H3 T45A", "titleAngle": 0, "titleAlign": "right", "titleBaseline": "middle", "titleX": -26, "titleY": 28.5, "tickSize": 18, "tickWidth": 2, "tickColor": {"condition": {"test": "datum.value < 0", "value": "black"}, "value": "transparent"}, "labelPadding": -14, "labelFlush": true}}}},
  {"transform": [{"filter": "datum.s == 'T45A' && datum.t == '-'"}], "mark": {"type": "area", "interpolate": "step-after", "color": "#9066ab"},
   "encoding": {"x": {"field": "x", "type": "quantitative", "scale": {"domain": [396650, 401470], "nice": false, "zero": false}, "axis": null}, "y": {"field": "v", "type": "quantitative"}, "y2": {"datum": 0}}},
  {"transform": [{"filter": "datum.s == 'T45A' && datum.t == '+'"}], "mark": {"type": "area", "interpolate": "step-after", "color": "#6a469c"},
   "encoding": {"x": {"field": "x", "type": "quantitative", "axis": null}, "y": {"field": "v", "type": "quantitative"}, "y2": {"datum": 0}}},
  {"data": {"values": [{}]}, "mark": {"type": "text", "text": "+", "align": "left", "baseline": "top", "dx": 3, "dy": 2, "fontSize": 17, "fontWeight": "bold"}, "encoding": {"x": {"datum": 396650, "axis": null}, "y": {"datum": 1831}}},
  {"data": {"values": [{}]}, "mark": {"type": "text", "text": "-", "align": "left", "baseline": "bottom", "dx": 3, "fontSize": 17, "fontWeight": "bold"}, "encoding": {"x": {"datum": 396650, "axis": null}, "y": {"datum": -1831}}}
 ]},
{"width": 573, "height": 58,
 "data": {"name": "covB2"},
 "layer": [
  {"data": {"values": [{}]}, "mark": {"type": "rule", "color": "#8a86bd", "strokeWidth": 1}, "encoding": {"y": {"datum": 0, "type": "quantitative", "scale": {"domain": [-1831, 1831], "nice": false, "zero": false},
     "axis": {"values": [-1831, 0, 1831], "labelExpr": "datum.value == 0 ? '0' : '1831'", "title": "H3 R52A", "titleAngle": 0, "titleAlign": "right", "titleBaseline": "middle", "titleX": -26, "titleY": 29, "tickSize": 18, "tickWidth": 2, "tickColor": {"condition": {"test": "datum.value < 0", "value": "black"}, "value": "transparent"}, "labelPadding": -14, "labelFlush": true}}}},
  {"transform": [{"filter": "datum.s == 'R52A' && datum.t == '-'"}], "mark": {"type": "area", "interpolate": "step-after", "color": "#9e99cb"},
   "encoding": {"x": {"field": "x", "type": "quantitative", "scale": {"domain": [396650, 401470], "nice": false, "zero": false}, "axis": null}, "y": {"field": "v", "type": "quantitative"}, "y2": {"datum": 0}}},
  {"transform": [{"filter": "datum.s == 'R52A' && datum.t == '+'"}], "mark": {"type": "area", "interpolate": "step-after", "color": "#2d2d86"},
   "encoding": {"x": {"field": "x", "type": "quantitative", "axis": null}, "y": {"field": "v", "type": "quantitative"}, "y2": {"datum": 0}}},
  {"data": {"values": [{}]}, "mark": {"type": "text", "text": "+", "align": "left", "baseline": "top", "dx": 3, "dy": 2, "fontSize": 17, "fontWeight": "bold"}, "encoding": {"x": {"datum": 396650, "axis": null}, "y": {"datum": 1831}}},
  {"data": {"values": [{}]}, "mark": {"type": "text", "text": "-", "align": "left", "baseline": "bottom", "dx": 3, "fontSize": 17, "fontWeight": "bold"}, "encoding": {"x": {"datum": 396650, "axis": null}, "y": {"datum": -1831}}}
 ]},
{"width": 573, "height": 82,
 "view": {"fill": "white"},
 "data": {"name": "genesB2"},
 "layer": [
  {"mark": {"type": "rule", "strokeWidth": 2, "color": "black"}, "encoding": {"x": {"field": "tss", "type": "quantitative", "scale": {"domain": [396650, 401470], "nice": false, "zero": false}, "axis": null}, "y": {"field": "top", "type": "quantitative", "scale": {"domain": [0, 100], "reverse": true, "nice": false, "zero": false}, "axis": null}, "y2": {"field": "ay"}}},
  {"mark": {"type": "rule", "strokeWidth": 2, "color": "black"}, "encoding": {"x": {"field": "tss", "type": "quantitative", "axis": null}, "x2": {"field": "tip"}, "y": {"field": "ay", "type": "quantitative", "axis": null}}},
  {"mark": {"type": "point", "filled": true, "color": "black", "opacity": 1, "size": 45}, "encoding": {"x": {"field": "tip", "type": "quantitative", "axis": null}, "y": {"field": "ay", "type": "quantitative", "axis": null}, "shape": {"field": "strand", "type": "nominal", "scale": {"domain": ["+", "-"], "range": ["triangle-right", "triangle-left"]}, "legend": null}}},
  {"mark": {"type": "rect", "fill": "white", "stroke": "black", "strokeWidth": 2}, "encoding": {"x": {"field": "start", "type": "quantitative", "axis": null}, "x2": {"field": "end"}, "y": {"field": "top", "type": "quantitative", "axis": null}, "y2": {"field": "bot"}}},
  {"mark": {"type": "text", "fontStyle": "italic", "fontWeight": "bold", "fontSize": 17, "baseline": "alphabetic", "dy": -4}, "encoding": {"x": {"field": "lx", "type": "quantitative", "axis": null}, "y": {"field": "bot", "type": "quantitative", "axis": null}, "text": {"field": "name"}}}
 ]}
 ]}
]
}
]
}
